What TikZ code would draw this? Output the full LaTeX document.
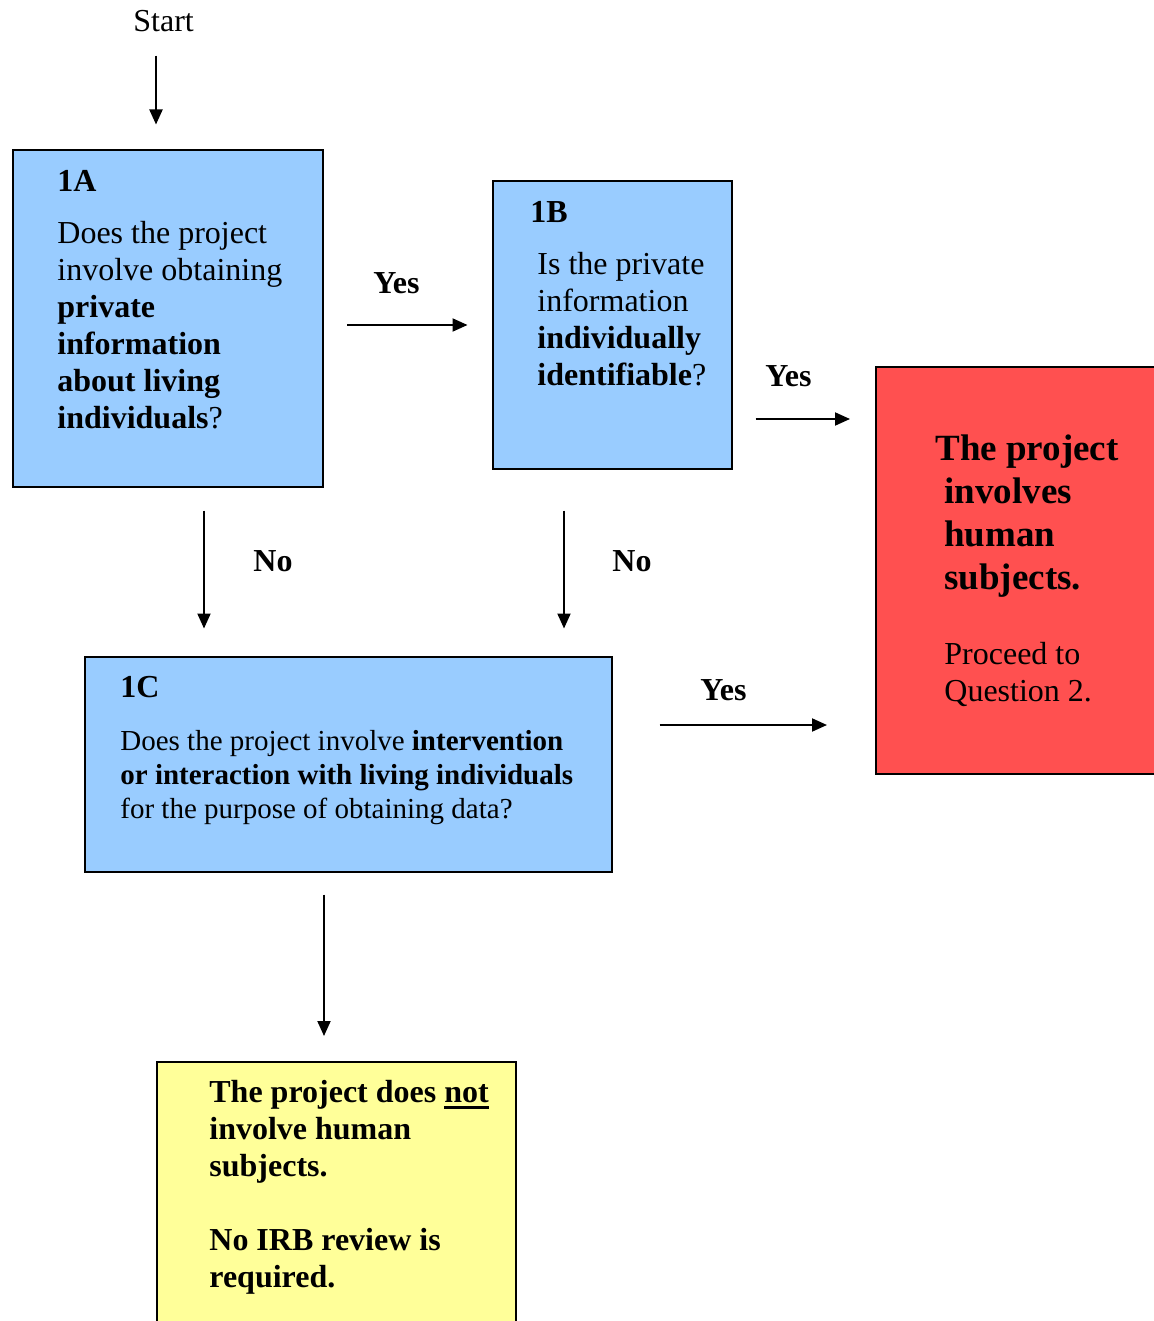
\documentclass[tikz,border=0pt]{standalone}
\usepackage{fontspec}
\setmainfont{Liberation Serif}
\usetikzlibrary{arrows.meta}
\definecolor{qblue}{HTML}{99CCFF}
\definecolor{qred}{HTML}{FF5050}
\definecolor{qyellow}{HTML}{FFFF99}
\newcommand{\qfont}{\fontsize{16pt}{18.5pt}\selectfont}
\newcommand{\cfont}{\fontsize{14.5pt}{17pt}\selectfont}
\newcommand{\rfont}{\fontsize{18.5pt}{21.5pt}\selectfont}
\newcommand{\thickul}[1]{{\setbox0=\hbox{#1}\rlap{\rule[-3.4pt]{\wd0}{1.3pt}}\box0}}

\begin{document}
\begin{tikzpicture}[x=0.5pt,y=-0.5pt,
  box/.style={draw,line width=1pt,inner sep=0pt},
  txt/.style={anchor=base west,inner sep=0pt,align=left},
  lbl/.style={anchor=base west,inner sep=0pt,font=\qfont\bfseries},
  flow/.style={line width=1pt,-{Triangle[length=7.5pt,width=6.5pt]}}]
\fill[white] (0,0) rectangle (1154,1321);
\useasboundingbox (0,0) rectangle (1154,1321);

  \node[box,fill=qblue,minimum width=155pt,minimum height=168pt]     (q1A) at (168,318.5) {};
  \node[box,fill=qblue,minimum width=119.5pt,minimum height=143.5pt] (q1B) at (612,325)   {};
  \node[box,fill=qred,minimum width=152pt,minimum height=203.5pt]    (human) at (1028,570) {};
  \node[box,fill=qblue,minimum width=263.5pt,minimum height=107.5pt] (q1C) at (348,764)   {};
  \node[box,fill=qyellow,minimum width=179.5pt,minimum height=139pt] (nothuman) at (336,1201) {};

  % texts are anchored at the baseline of their last line
  \node[txt,font=\qfont] (start) at (133,32) {Start};
  \node[txt,font=\qfont] (t1A) at (57,428)
    {\textbf{1A}\\[7.5pt]Does the project\\involve obtaining\\\textbf{private}\\\textbf{information}\\\textbf{about living}\\\textbf{individuals}?};
  \node[txt,font=\qfont] (t1B) at (537,385)
    {\hspace*{-3.5pt}\textbf{1B}\\[7.5pt]Is the private\\information\\\textbf{individually}\\\textbf{identifiable}?};
  \node[txt,font=\cfont] (t1C) at (120,818)
    {\textbf{\qfont 1C}\\[9.5pt]Does the project involve \textbf{intervention}\\\textbf{or interaction with living individuals}\\for the purpose of obtaining data?};
  \node[txt,font=\rfont\bfseries] (thuman) at (944,589)
    {\hspace*{-4.5pt}The project\\involves\\human\\subjects.};
  \node[txt,font=\qfont] (tproceed) at (944,701)
    {Proceed to\\Question 2.};
  \node[txt,font=\qfont\bfseries] (tnothuman) at (209,1287)
    {The project does \thickul{not}\\involve human\\subjects.\\[18.5pt]No IRB review is\\required.};

  \node[lbl] (yesA) at (373,293) {Yes};
  \node[lbl] (yesB) at (765,386) {Yes};
  \node[lbl] (noA)  at (253,571) {No};
  \node[lbl] (noB)  at (612,571) {No};
  \node[lbl] (yesC) at (700,700) {Yes};

  \path[flow]
    (start.south -| 156,0) edge[shorten <=11.5pt,shorten >=12.5pt] (q1A.north -| 156,0)
    (q1A.east |- q1B.west) edge[shorten <=11.5pt,shorten >=12pt]   (q1B.west)
    (q1B.east |- 0,419)    edge[shorten <=11.5pt,shorten >=12.5pt] (human.west |- 0,419)
    (q1A.south -| 204,0)   edge[shorten <=11.5pt,shorten >=13.5pt] (q1C.north -| 204,0)
    (q1B.south -| 564,0)   edge[shorten <=20.5pt,shorten >=13.5pt] (q1C.north -| 564,0)
    (q1C.east |- 0,725)    edge[shorten <=23.5pt,shorten >=24pt]   (human.west |- 0,725)
    (q1C.south -| 324,0)   edge[shorten <=11pt,shorten >=12.5pt]   (nothuman.north -| 324,0);
\end{tikzpicture}
\end{document}
